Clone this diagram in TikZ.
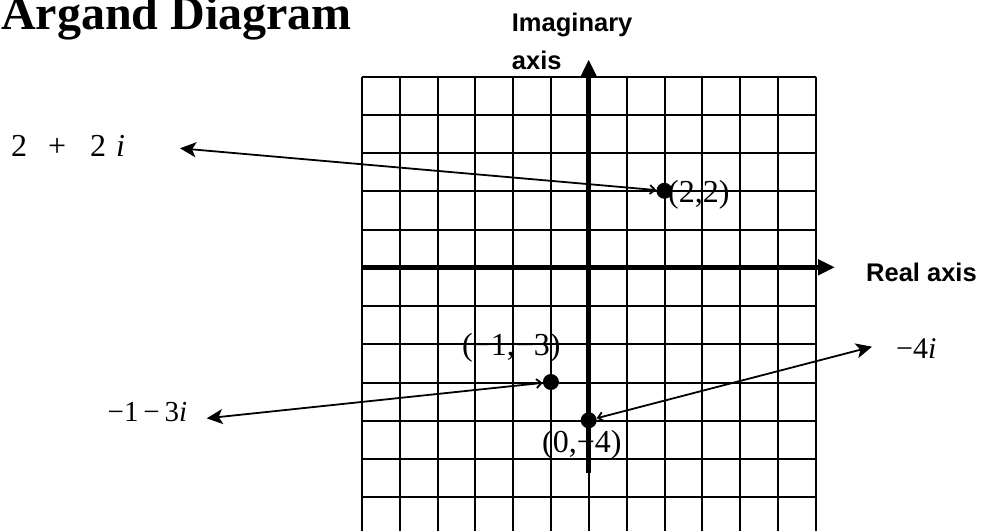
\documentclass[tikz,border=0pt]{standalone}
\usepackage{fontspec}
\setmainfont{Liberation Serif}
\setsansfont{Liberation Sans}
\usetikzlibrary{arrows.meta}
\begin{document}
\begin{tikzpicture}[x=1pt,y=-1pt,
  gridline/.style={line width=2pt},
  axisline/.style={line width=4.5pt,-{Triangle[length=17pt,width=15pt]}},
  dot/.style={circle,fill=black,inner sep=0pt,minimum size=16pt},
  conn/.style={line width=1.8pt,{Straight Barb[length=5pt,width=9pt]}-{Stealth[length=16pt,width=15pt,inset=4pt]}},
  lbl/.style={inner sep=0pt,anchor=base west},
  coordlbl/.style={lbl,font=\fontsize{32}{36}\selectfont},
  sflbl/.style={lbl,font=\sffamily\bfseries\fontsize{25.5}{30}\selectfont}]
\useasboundingbox (0,0) rectangle (982,531);
% grid
\foreach \i in {0,...,12} \draw[gridline] ({362+37.83*\i},76.7) -- ({362+37.83*\i},531);
\foreach \j in {0,...,11} \draw[gridline] (362,{76.7+38.24*\j}) -- (816,{76.7+38.24*\j});
% axes
\draw[axisline] (362,267.3) -- (835,267.3);
\draw[axisline] (588.7,473) -- (588.7,59.5);
% points
\node[dot] (p22) at (664.4,190.8) {};
\node[dot] (p13) at (550.9,382) {};
\node[dot] (p04) at (588.7,420.3) {};
% arrow tips
\coordinate (t22) at (180,148.3);
\coordinate (t13) at (206.7,418.3);
\coordinate (t4) at (872,346.7);
\draw[conn] (p22) -- (t22);
\draw[conn] (p13) -- (t13);
\draw[conn] (p04) -- (t4);
% labels
\node[lbl,font=\bfseries\fontsize{48}{52}\selectfont] (title) at (1,29) {Argand Diagram};
\node[sflbl] (im1) at (511.7,31.7) {Imaginary};
\node[sflbl] (im2) at (511.7,69) {axis};
\node[sflbl] (re) at (866,281.7) {Real axis};
\node[coordlbl] (c22) at (668,202) {(2,2)};
\node[coordlbl] (c13) at (462,355) {(−1,\hspace{1pt}−3)};
\node[coordlbl] (c04) at (542,452) {(0,−4)};
\node[lbl,font=\fontsize{32}{36}\selectfont] (l22) at (11,156.7) {2\hspace{21pt}+\hspace{24pt}2\hspace{10pt}\textit{i}};
\node[lbl,font=\fontsize{29}{34}\selectfont] (l13) at (107.5,421.7) {−1\,−\,3\textit{i}};
\node[lbl,font=\fontsize{30}{34}\selectfont] (l4) at (896,358.3) {−4\textit{i}};
\end{tikzpicture}
\end{document}
